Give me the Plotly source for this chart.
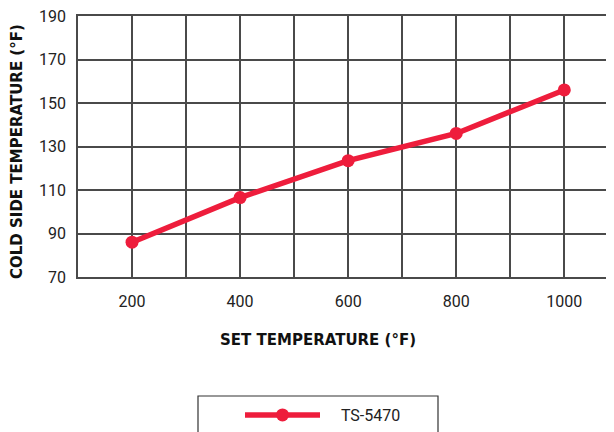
import plotly.graph_objects as go

set_temp = [200, 400, 600, 800, 1000]
cold_side = [86, 106.5, 123.5, 136, 156]
series_name = "TS-5470"
x_ticks = [200, 400, 600, 800, 1000]
y_ticks = [70, 90, 110, 130, 150, 170, 190]

RED = "#ee1d3c"
GRID = "#4a4a4a"
TICKFONT = dict(family="Roboto", size=16, color="#222")
TITLEFONT = dict(family="DejaVu Sans", size=15, color="#111")

# figure sits inside the page's 8px body margin
W, H = 606, 424
L, T, B, R = 70, 8, 155, 0
PW, PH = W - L - R, H - T - B

def px(xf):  # figure px -> paper x
    return (xf - L) / PW

def py(yf):  # figure px -> paper y
    return 1 - (yf - T) / PH

fig = go.Figure()
fig.add_trace(go.Scatter(
    x=set_temp, y=cold_side, name="\u00a0\u00a0\u00a0\u00a0" + series_name, mode="lines+markers",
    line=dict(color=RED, width=5.5),
    marker=dict(color=RED, size=13),
    cliponaxis=False,
))

fig.update_layout(
    width=W, height=H,
    margin=dict(l=L, r=R, t=T, b=B),
    plot_bgcolor="white", paper_bgcolor="white",
    showlegend=True,
    legend=dict(
        x=px(232), y=py(390), xanchor="left", yanchor="top",
        orientation="h", borderwidth=0, bgcolor="rgba(0,0,0,0)",
        font=dict(family="Roboto", size=16, color="#222"),
        itemwidth=75,
    ),
    xaxis=dict(
        range=[100, 1092], tickvals=x_ticks, ticktext=[str(v) for v in x_ticks],
        showgrid=True, gridcolor=GRID, gridwidth=1.5,
        minor=dict(dtick=100, tick0=100, showgrid=True, gridcolor=GRID, gridwidth=1.5),
        zeroline=False, showline=True, mirror=True, linecolor=GRID, linewidth=1.5,
        ticks="", ticklabelstandoff=9, tickfont=TICKFONT,
    ),
    yaxis=dict(
        range=[70, 190], tickvals=y_ticks,
        showgrid=True, gridcolor=GRID, gridwidth=1.5,
        zeroline=False, showline=True, linecolor=GRID, linewidth=1.5,
        ticks="", ticklabelstandoff=7, tickfont=TICKFONT,
        ticklabeloverflow="allow",
    ),
    shapes=[
        dict(type="rect", xref="paper", yref="paper",
             x0=px(190), x1=px(430), y0=py(388), y1=py(440),
             line=dict(color="#333", width=1.2), fillcolor="rgba(0,0,0,0)", layer="above"),
    ],
    annotations=[
        dict(text="<b>SET TEMPERATURE (°F)</b>", xref="paper", yref="paper",
             x=px(310), y=py(332), xanchor="center", yanchor="middle",
             showarrow=False, font=TITLEFONT),
        dict(text="<b>COLD SIDE TEMPERATURE (°F)</b>", xref="paper", yref="paper",
             x=px(9), y=py(144), xanchor="center", yanchor="middle",
             textangle=-90, showarrow=False, font=TITLEFONT),
    ],
)

fig.write_html("out.html")
